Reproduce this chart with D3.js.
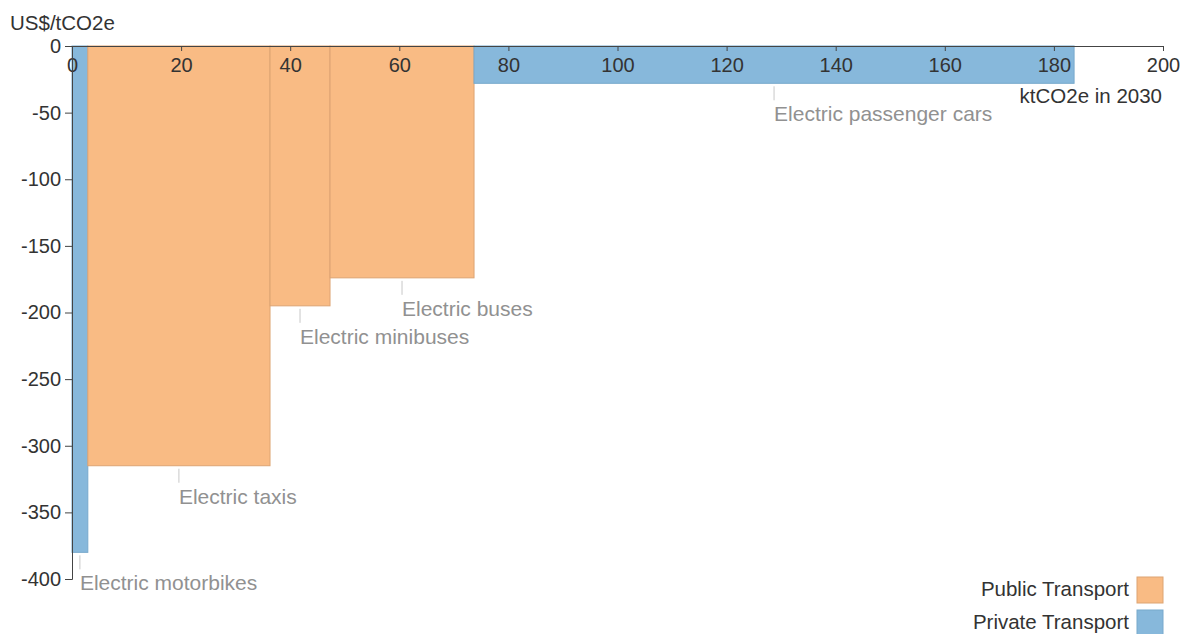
<!DOCTYPE html>
<html><head><meta charset="utf-8">
<script src="https://cdn.jsdelivr.net/npm/d3@7"></script>
<style>
body{margin:0;background:#fff;}
text{font-family:"Liberation Sans",Arial,sans-serif;}
</style></head>
<body><svg id="c" width="1188" height="634"></svg>
<script>
const categories = ["Electric motorbikes","Electric taxis","Electric minibuses","Electric buses","Electric passenger cars"];
const abatement = [2.9, 33.4, 11.0, 26.4, 110.0];   // ktCO2e in 2030 (bar widths)
const costs = [-380, -315, -195, -174, -28];        // US$/tCO2e
const groups = ["Private Transport","Public Transport","Public Transport","Public Transport","Private Transport"];
const xTicks = [0,20,40,60,80,100,120,140,160,180,200];
const yTicks = [0,-50,-100,-150,-200,-250,-300,-350,-400];
const legendItems = ["Public Transport","Private Transport"];

const fill = {"Public Transport":"#F9BB84","Private Transport":"#87B8DB"};
const stroke = {"Public Transport":"#DDA473","Private Transport":"#78A9CC"};

const svg = d3.select("#c");
const x = d3.scaleLinear().domain([0,200]).range([72,1163]);
const y = d3.scaleLinear().domain([0,-400]).range([46,579]);

let cum = 0;
const bars = categories.map((c,i)=>{const s=cum; cum+=abatement[i]; return {c, x0:s, x1:cum, v:costs[i], g:groups[i]};});

svg.append("g").selectAll("rect").data(bars).join("rect")
  .attr("x",d=>x(d.x0)).attr("y",y(0))
  .attr("width",d=>x(d.x1)-x(d.x0)).attr("height",d=>y(d.v)-y(0))
  .attr("fill",d=>fill[d.g]).attr("stroke",d=>stroke[d.g]).attr("stroke-width",1);

// leaders and labels
const lab = svg.append("g");
bars.forEach(d=>{
  const cx = x((d.x0+d.x1)/2), by = y(d.v);
  lab.append("line").attr("x1",cx).attr("x2",cx).attr("y1",by+3).attr("y2",by+17)
    .attr("stroke","#c8c8c8").attr("stroke-width",1);
  lab.append("text").attr("x",cx).attr("y",by+38).attr("fill","#919191")
    .style("font-size","21px").text(d.c);
});

// axes
const fmt = d => String(d);
const xa = svg.append("g").attr("transform",`translate(0,${y(0)})`)
  .call(d3.axisBottom(x).tickValues(xTicks).tickFormat(fmt).tickSize(5).tickPadding(7));
const ya = svg.append("g").attr("transform",`translate(${x(0)},0)`)
  .call(d3.axisLeft(y).tickValues(yTicks).tickFormat(fmt).tickSize(7).tickPadding(4));
[xa,ya].forEach(a=>{
  a.selectAll("text").style("font-size","20px").attr("fill","#333");
  a.selectAll("line").attr("stroke","#444");
  a.select(".domain").attr("stroke","#444");
});

svg.append("text").attr("x",10).attr("y",30).attr("fill","#333").style("font-size","20.5px").text("US$/tCO2e");
svg.append("text").attr("x",1162).attr("y",103).attr("text-anchor","end").attr("fill","#333").style("font-size","20.5px").text("ktCO2e in 2030");

// legend
const lg = svg.append("g");
legendItems.forEach((k,i)=>{
  const yy = 577 + i*33;
  lg.append("rect").attr("x",1137).attr("y",yy).attr("width",26).attr("height",26)
    .attr("fill",fill[k]).attr("stroke",stroke[k]);
  lg.append("text").attr("x",1129).attr("y",yy+19).attr("text-anchor","end")
    .attr("fill","#333").style("font-size","20.5px").text(k);
});
</script></body></html>
